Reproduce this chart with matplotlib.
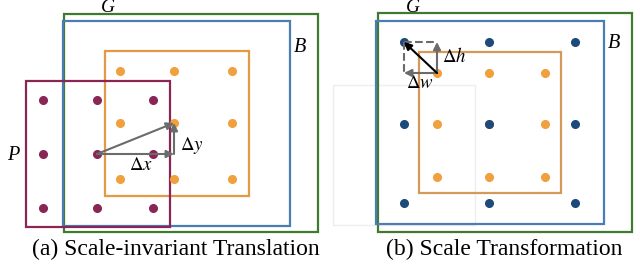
import matplotlib.pyplot as plt
from matplotlib.patches import Rectangle

# panel (a): boxes as (x0, y0, x1, y1) in picture pixels
a_boxes = {
    "G": (64, 14, 318, 232),
    "B": (63, 21, 290, 226),
    "orange": (105, 51, 249, 196),
    "P": (26, 81, 170, 227),
}
a_orange_x = [120, 174, 232]
a_orange_y = [71, 123, 179]
a_purple_x = [43, 97, 153]
a_purple_y = [100, 154, 208]

# panel (b)
b_boxes = {
    "ghost": (333, 85, 475, 225),
    "G": (378, 13, 632, 232),
    "B": (376, 21, 604, 224),
    "orange": (419, 52, 561, 193),
}
b_blue_x = [404, 489, 575]
b_blue_y = [42, 124, 203]
b_orange_x = [437, 489, 545]
b_orange_y = [73, 124, 177]

green = "#3f7a2e"
blue = "#4a7db3"
orange_edge = "#e29a45"
orange_edge_b = "#d39a5a"
orange_dot = "#f0a03c"
purple = "#8a2656"
navy = "#1d4a7a"
grey = "#6b6b6b"

plt.rcParams["font.family"] = "Liberation Serif"
fig = plt.figure(figsize=(6.4, 2.71), dpi=100)
ax = fig.add_axes([0, 0, 1, 1])
ax.set_xlim(0, 640)
ax.set_ylim(271, 0)
ax.axis("off")


def box(b, color, lw=1.6, z=1):
    x0, y0, x1, y1 = b
    ax.add_patch(Rectangle((x0, y0), x1 - x0, y1 - y0, fill=False,
                           edgecolor=color, linewidth=lw, zorder=z))


def arrow(p0, p1, color, lw=1.5):
    ax.annotate("", xy=p1, xytext=p0,
                arrowprops=dict(arrowstyle="-|>", color=color, lw=lw,
                                mutation_scale=11, shrinkA=0, shrinkB=0),
                zorder=5)


# ---- panel (a)
box(a_boxes["G"], green)
box(a_boxes["B"], blue)
box(a_boxes["orange"], orange_edge)
box(a_boxes["P"], purple)
for y in a_orange_y:
    for x in a_orange_x:
        ax.plot(x, y, "o", color=orange_dot, ms=5.5, zorder=3)
for y in a_purple_y:
    for x in a_purple_x:
        ax.plot(x, y, "o", color=purple, ms=5.5, zorder=3)

start = (a_purple_x[1], a_purple_y[1])
corner = (a_orange_x[1], a_purple_y[1])
end = (a_orange_x[1], a_orange_y[1])
arrow(start, corner, grey)
arrow(corner, end, grey)
arrow(start, end, grey)

ax.text(108, 12, "G", style="italic", fontsize=14, ha="center", va="baseline")
ax.text(300, 47, "B", style="italic", fontsize=14.5, ha="center", va="center")
ax.text(13, 155, "P", style="italic", fontsize=14.5, ha="center", va="center")
ax.text(141, 166, r"$\Delta x$", fontsize=13.5, ha="center", va="center",
        math_fontfamily="stix")
ax.text(180, 145, r"$\Delta y$", fontsize=13.5, ha="left", va="center",
        math_fontfamily="stix")
ax.text(176, 249, "(a) Scale-invariant Translation", fontsize=17,
        ha="center", va="center")

# ---- panel (b)
box(b_boxes["ghost"], "#eeeeee", lw=1.0, z=0)
box(b_boxes["G"], green)
box(b_boxes["B"], blue)
box(b_boxes["orange"], orange_edge_b)
for y in b_orange_y:
    for x in b_orange_x:
        ax.plot(x, y, "o", color=orange_dot, ms=5.5, zorder=3)
for y in b_blue_y:
    for x in b_blue_x:
        ax.plot(x, y, "o", color=navy, ms=5.5, zorder=3)

bd = (b_blue_x[0], b_blue_y[0])
od = (b_orange_x[0], b_orange_y[0])
ax.plot([bd[0], od[0]], [bd[1], bd[1]], "--", color=grey, lw=1.5, zorder=4)
ax.plot([bd[0], bd[0]], [bd[1], od[1]], "--", color=grey, lw=1.5, zorder=4)
arrow(od, (od[0], bd[1]), grey)
arrow(od, (bd[0], od[1]), grey)
arrow(od, bd, "black")

ax.text(413, 12, "G", style="italic", fontsize=14, ha="center", va="baseline")
ax.text(614, 44, "B", style="italic", fontsize=14.5, ha="center", va="center")
ax.text(442, 57, r"$\Delta h$", fontsize=13.5, ha="left", va="center",
        math_fontfamily="stix")
ax.text(420, 84, r"$\Delta w$", fontsize=13.5, ha="center", va="center",
        math_fontfamily="stix")
ax.text(504, 249, "(b) Scale Transformation", fontsize=17,
        ha="center", va="center")

fig.savefig("out.png", dpi=100)
